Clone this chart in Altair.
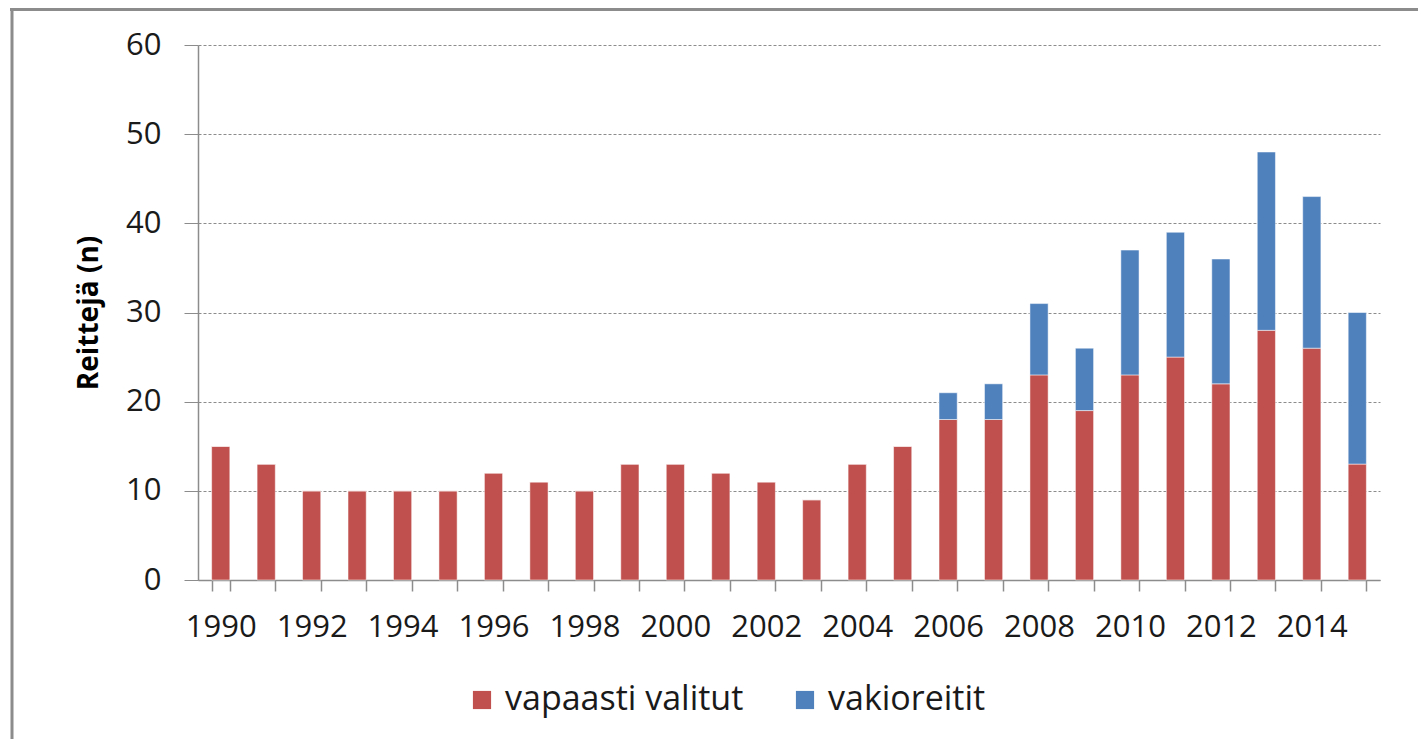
import altair as alt
import pandas as pd

years = [str(y) for y in range(1990, 2016)]
vapaasti = [15, 13, 10, 10, 10, 10, 12, 11, 10, 13, 13, 12, 11, 9, 13, 15,
            18, 18, 23, 19, 23, 25, 22, 28, 26, 13]
vakio = [0, 0, 0, 0, 0, 0, 0, 0, 0, 0, 0, 0, 0, 0, 0, 0,
         3, 4, 8, 7, 14, 14, 14, 20, 17, 17]
series = ["vapaasti valitut", "vakioreitit"]
colors = ["#C0504D", "#4F81BD"]

rows = []
for i, y in enumerate(years):
    rows.append({"year": y, "series": series[0], "value": vapaasti[i], "ord": 0})
    rows.append({"year": y, "series": series[1], "value": vakio[i], "ord": 1})
df = pd.DataFrame(rows)

FONT = "Open Sans"
W, H = 1182, 535
GRAY = "#8c8c8c"

bars = alt.Chart(df).mark_bar(stroke="#ffffff", strokeWidth=1, strokeOpacity=0.5).encode(
    x=alt.X("year:O", title=None,
            scale=alt.Scale(paddingInner=0.6, paddingOuter=0.3),
            axis=alt.Axis(labelAngle=0, tickBand="extent", tickSize=11,
                          tickColor=GRAY, tickWidth=1.5,
                          domainColor=GRAY, domainWidth=1.5,
                          labelFont=FONT, labelFontSize=31, labelColor="#1a1a1a",
                          labelPadding=21, labelOverlap=False, labelFlush=False,
                          labelExpr="toNumber(datum.value) % 2 == 0 ? datum.value : ''")),
    y=alt.Y("value:Q", title="Reittejä (n)",
            scale=alt.Scale(domain=[0, 60]),
            axis=alt.Axis(values=[0, 10, 20, 30, 40, 50, 60], tickSize=14,
                          tickColor=GRAY, tickWidth=1,
                          domainColor=GRAY, domainWidth=1.5,
                          grid=True, gridColor=GRAY, gridDash=[3, 2], gridWidth=1,
                          labelFont=FONT, labelFontSize=31, labelColor="#1a1a1a",
                          labelPadding=23,
                          titleFont=FONT, titleFontSize=28, titleFontWeight="bold",
                          titleColor="#000000", titlePadding=22)),
    color=alt.Color("series:N", sort=series,
                    scale=alt.Scale(domain=series, range=colors),
                    legend=alt.Legend(title=None, orient="none", direction="horizontal",
                                      legendX=267, legendY=638,
                                      symbolType="square", symbolSize=330,
                                      symbolStrokeWidth=0,
                                      labelFont=FONT, labelFontSize=34, labelColor="#1a1a1a",
                                      labelLimit=500,
                                      labelOffset=6, columnPadding=44)),
    order=alt.Order("ord:Q"),
)

frame_src = alt.Data(values=[{"a": 1}])
frame_left = alt.Chart(frame_src).mark_rule(color=GRAY, strokeWidth=3, clip=False).encode(
    x=alt.value(-186), y=alt.value(-37), y2=alt.value(800),
)
frame_top = alt.Chart(frame_src).mark_rule(color=GRAY, strokeWidth=3, clip=False).encode(
    x=alt.value(-188), x2=alt.value(1220), y=alt.value(-35.5),
)

chart = alt.layer(frame_left, frame_top, bars).properties(
    width=W, height=H,
    autosize=alt.AutoSizeParams(type="none"),
    padding={"left": 190, "top": 37, "right": 38, "bottom": 159},
).configure_view(stroke=None)

chart.save("out.html", embed_options={"renderer": "svg", "actions": False})
